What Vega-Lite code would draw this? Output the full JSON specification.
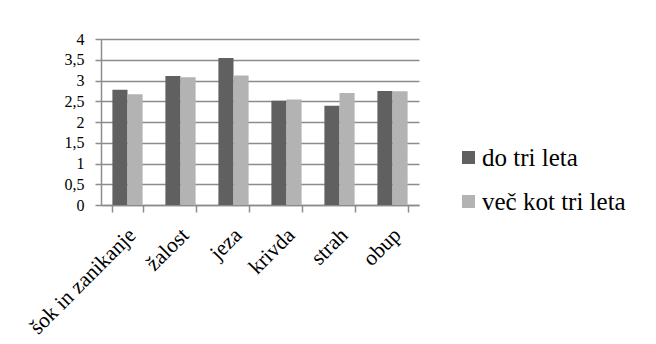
{
  "$schema": "https://vega.github.io/schema/vega-lite/v6.json",
  "width": 318,
  "height": 166,
  "autosize": "none",
  "padding": {"left": 101, "top": 39, "right": 237, "bottom": 139},
  "background": "white",
  "config": {
    "font": "Liberation Serif",
    "view": {"stroke": null},
    "axis": {
      "labelFont": "Liberation Serif",
      "labelColor": "black",
      "domainColor": "#8c8c8c",
      "tickColor": "#8c8c8c",
      "gridColor": "#8c8c8c",
      "domainWidth": 1.5,
      "tickWidth": 1.5,
      "gridWidth": 1.5,
      "title": null
    },
    "legend": {"labelFont": "Liberation Serif", "labelColor": "black"}
  },
  "data": {
    "values": [
      {"kategorija": "šok in zanikanje", "skupina": "do tri leta", "vrednost": 2.78},
      {"kategorija": "šok in zanikanje", "skupina": "več kot tri leta", "vrednost": 2.67},
      {"kategorija": "žalost", "skupina": "do tri leta", "vrednost": 3.11},
      {"kategorija": "žalost", "skupina": "več kot tri leta", "vrednost": 3.08},
      {"kategorija": "jeza", "skupina": "do tri leta", "vrednost": 3.54},
      {"kategorija": "jeza", "skupina": "več kot tri leta", "vrednost": 3.12},
      {"kategorija": "krivda", "skupina": "do tri leta", "vrednost": 2.51},
      {"kategorija": "krivda", "skupina": "več kot tri leta", "vrednost": 2.54},
      {"kategorija": "strah", "skupina": "do tri leta", "vrednost": 2.39},
      {"kategorija": "strah", "skupina": "več kot tri leta", "vrednost": 2.70},
      {"kategorija": "obup", "skupina": "do tri leta", "vrednost": 2.75},
      {"kategorija": "obup", "skupina": "več kot tri leta", "vrednost": 2.74}
    ]
  },
  "mark": {"type": "bar"},
  "encoding": {
    "x": {
      "field": "kategorija",
      "type": "nominal",
      "sort": null,
      "scale": {"paddingInner": 0.43, "paddingOuter": 0.215},
      "axis": {
        "tickBand": "extent",
        "tickSize": 7,
        "labelAngle": -45,
        "labelAlign": "right",
        "labelBaseline": "top",
        "labelFontSize": 21.5,
        "labelPadding": 12,
        "labelOffset": -3
      }
    },
    "xOffset": {"field": "skupina", "type": "nominal", "sort": null, "scale": {"paddingInner": 0, "paddingOuter": 0}},
    "y": {
      "field": "vrednost",
      "type": "quantitative",
      "scale": {"domain": [0, 4], "nice": false},
      "axis": {
        "values": [0, 0.5, 1, 1.5, 2, 2.5, 3, 3.5, 4],
        "labelExpr": "replace(format(datum.value, '~g'), '.', ',')",
        "labelFontSize": 16,
        "tickSize": 6,
        "labelPadding": 11,
        "grid": true
      }
    },
    "color": {
      "field": "skupina",
      "type": "nominal",
      "sort": null,
      "scale": {"range": ["#606060", "#b3b3b3"]},
      "legend": {
        "title": null,
        "orient": "none",
        "legendX": 355,
        "legendY": 106,
        "symbolType": "square",
        "symbolSize": 169,
        "symbolStrokeWidth": 0,
        "labelFontSize": 25,
        "labelOffset": 1,
        "rowPadding": 18,
        "labelLimit": 300
      }
    }
  }
}
